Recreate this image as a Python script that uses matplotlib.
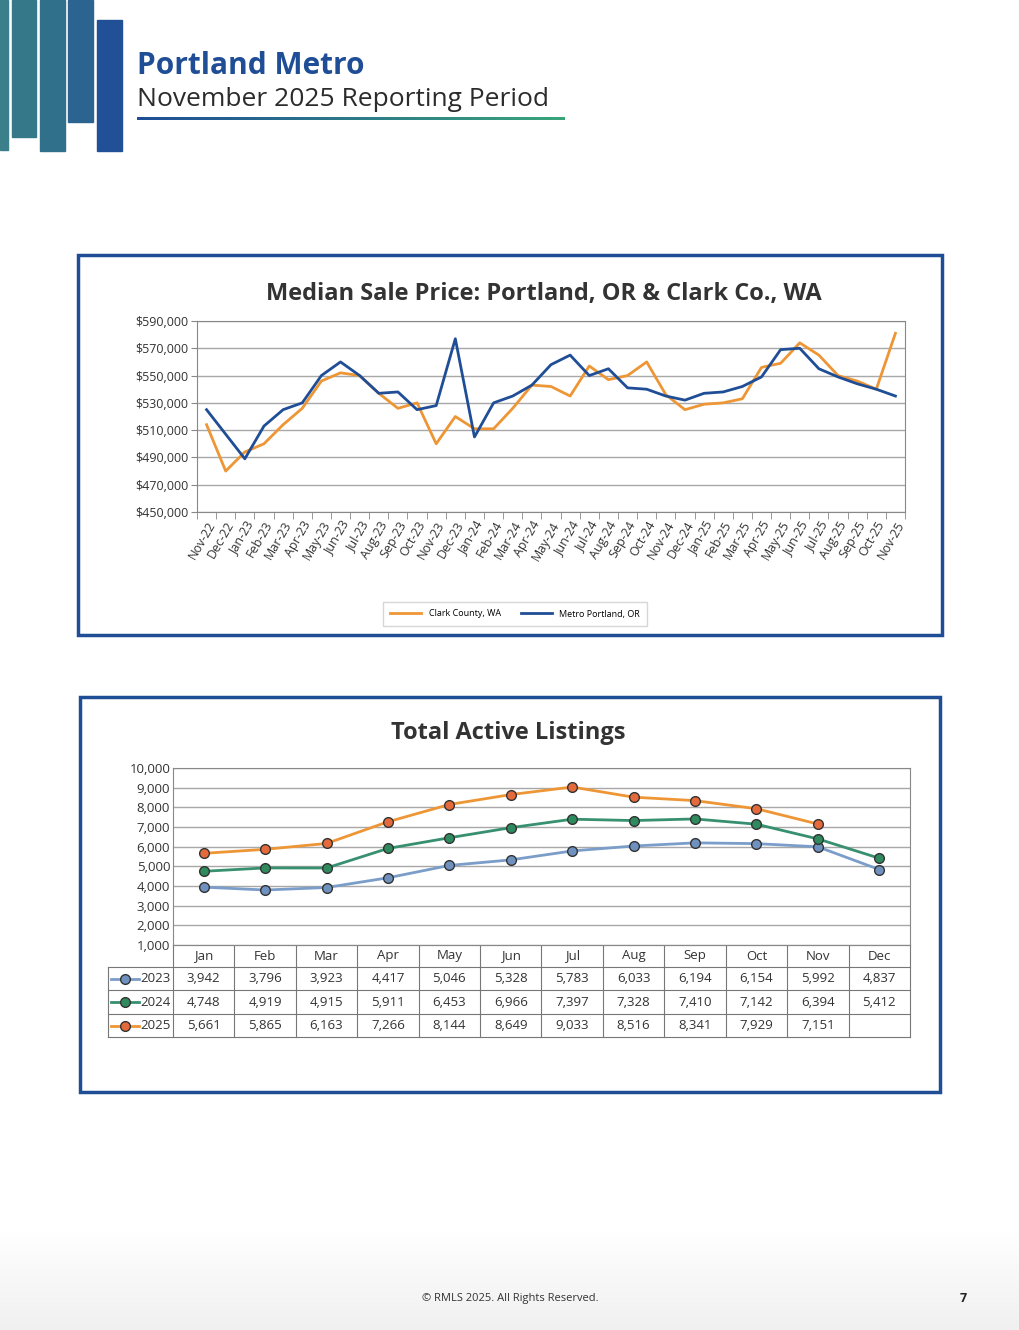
import numpy as np
import matplotlib.pyplot as plt
from matplotlib.patches import Rectangle
from matplotlib.colors import LinearSegmentedColormap

plt.rcParams['font.family'] = ['Open Sans', 'DejaVu Sans']

# top chart data ($000)
months = ['Nov-22', 'Dec-22', 'Jan-23', 'Feb-23', 'Mar-23', 'Apr-23', 'May-23', 'Jun-23', 'Jul-23',
          'Aug-23', 'Sep-23', 'Oct-23', 'Nov-23', 'Dec-23', 'Jan-24', 'Feb-24', 'Mar-24', 'Apr-24',
          'May-24', 'Jun-24', 'Jul-24', 'Aug-24', 'Sep-24', 'Oct-24', 'Nov-24', 'Dec-24', 'Jan-25',
          'Feb-25', 'Mar-25', 'Apr-25', 'May-25', 'Jun-25', 'Jul-25', 'Aug-25', 'Sep-25', 'Oct-25', 'Nov-25']
clark = [514, 480, 494, 500, 514, 526, 546, 552, 550, 537, 526, 530, 500, 520, 511, 511, 526, 543,
         542, 535, 557, 547, 550, 560, 536, 525, 529, 530, 533, 556, 559, 574, 565, 550, 546, 540, 581]
metro = [525, 507, 489, 513, 525, 530, 550, 560, 550, 537, 538, 525, 528, 577, 505, 530, 535, 543,
         558, 565, 550, 555, 541, 540, 535, 532, 537, 538, 542, 549, 569, 570, 555, 549, 544, 540, 535]

# bottom chart data
cal = ['Jan', 'Feb', 'Mar', 'Apr', 'May', 'Jun', 'Jul', 'Aug', 'Sep', 'Oct', 'Nov', 'Dec']
y2023 = [3942, 3796, 3923, 4417, 5046, 5328, 5783, 6033, 6194, 6154, 5992, 4837]
y2024 = [4748, 4919, 4915, 5911, 6453, 6966, 7397, 7328, 7410, 7142, 6394, 5412]
y2025 = [5661, 5865, 6163, 7266, 8144, 8649, 9033, 8516, 8341, 7929, 7151]

W, H = 1020, 1330
fig = plt.figure(figsize=(W / 100, H / 100), dpi=100)


def px(x0, y0, x1, y1):
    return [x0 / W, 1 - y1 / H, (x1 - x0) / W, (y1 - y0) / H]


bg = fig.add_axes([0, 0, 1, 1])
bg.axis('off')

# footer band (light grey fade)
fade = np.linspace(0, 1, 100)[:, None]
bg.imshow(fade, cmap=LinearSegmentedColormap.from_list('f', ['#ffffff', '#f0f0f0']),
          extent=(0, W, 1330, 1230), aspect='auto', zorder=0)

# header bars
for (x0, x1, y0, y1, c) in [(0, 8, 0, 150, '#3a7f8a'), (12, 36, 0, 137, '#357889'),
                            (40, 65, 0, 151, '#30708a'), (68, 93, 0, 122, '#2b6391'),
                            (97, 122, 20, 151, '#215096')]:
    bg.add_patch(Rectangle((x0, y0), x1 - x0, y1 - y0, color=c))
bg.text(137, 66, 'Portland Metro', fontsize=21.5, fontweight='bold', color='#1f4e96', va='center')
bg.text(137, 100, 'November 2025 Reporting Period', fontsize=19, color='#2b2b2b', va='center')
grad = np.linspace(0, 1, 200)[None, :]
bg.imshow(grad, cmap=LinearSegmentedColormap.from_list('g', ['#1f4e96', '#3aa57a']),
          extent=(137, 565, 120.5, 118), aspect='auto')
bg.set_xlim(0, W)
bg.set_ylim(H, 0)

bg.text(510, 1299, '© RMLS 2025. All Rights Reserved.', fontsize=8, color='#333333', ha='center', va='center')
bg.text(963, 1298, '7', fontsize=9, fontweight='bold', color='#222222', ha='center', va='center')

# frames
for (x0, y0, x1, y1) in [(78, 255, 942, 635), (80, 697, 940, 1092)]:
    bg.add_patch(Rectangle((x0, y0), x1 - x0, y1 - y0, fill=False, ec='#1f4e96', lw=2.5))

# ---- top chart ----
bg.text(544, 294, 'Median Sale Price: Portland, OR & Clark Co., WA', fontsize=17, fontweight='bold',
        color='#333333', ha='center', va='center')
ax = fig.add_axes(px(197, 321, 905, 512))
x = np.arange(len(months))
ax.plot(x, clark, color='#ee9635', lw=2, label='Clark County, WA')
ax.plot(x, metro, color='#1f4e96', lw=2, label='Metro Portland, OR')
ax.set_xlim(-0.5, len(months) - 0.5)
ax.set_ylim(450, 590)
ax.set_yticks(np.arange(450, 591, 20))
ax.set_yticklabels([f'${v},000' for v in range(450, 591, 20)], fontsize=9, color='#333333')
ax.set_xticks(x)
ax.set_xticklabels(months, rotation=60, ha='right', rotation_mode='anchor', fontsize=9, color='#333333')
ax.set_xticks(np.arange(-0.5, len(months)), minor=True)
ax.tick_params(axis='x', which='major', length=0, pad=5)
ax.tick_params(axis='x', which='minor', length=5, color='#888888')
ax.tick_params(axis='y', length=4, color='#888888', pad=2)
ax.grid(axis='y', color='#a8a8a8', lw=1)
ax.set_axisbelow(True)
for s in ax.spines.values():
    s.set_color('#888888')
fig.legend(loc='center', bbox_to_anchor=(515 / W, 1 - 614 / H), ncol=2, fontsize=6.5,
           frameon=True, fancybox=False, edgecolor='#cccccc', handlelength=3.5, borderpad=0.8,
           columnspacing=2.2)

# ---- bottom chart ----
bg.text(508, 733, 'Total Active Listings', fontsize=17, fontweight='bold', color='#333333',
        ha='center', va='center')
ax2 = fig.add_axes(px(173, 768, 910, 945))
xs = np.arange(12)
styles = [('2023', y2023, '#7b9dc9', '#6e91c0'), ('2024', y2024, '#379070', '#2f8a5d'),
          ('2025', y2025, '#ee9635', '#e46a3c')]
for name, vals, lc, mc in styles:
    ax2.plot(xs[:len(vals)], vals, color=lc, lw=2, marker='o', ms=7, mfc=mc, mec='#333333', mew=1)
ax2.set_xlim(-0.5, 11.5)
ax2.set_ylim(1000, 10000)
ax2.set_yticks(np.arange(1000, 10001, 1000))
ax2.set_yticklabels([f'{v:,}' for v in range(1000, 10001, 1000)], fontsize=9.5, color='#333333')
ax2.set_xticks([])
ax2.tick_params(axis='y', length=0, pad=2)
ax2.grid(axis='y', color='#a8a8a8', lw=1)
ax2.set_axisbelow(True)
for s in ax2.spines.values():
    s.set_color('#888888')

# data table under the plot
col_w = (910 - 173) / 12
row_y = [945, 967, 990, 1014, 1037]
lc = '#777777'
for i in range(13):
    xx = 173 + i * col_w
    bg.plot([xx, xx], [945, 1037], color=lc, lw=0.8)
bg.plot([108, 108], [967, 1037], color=lc, lw=0.8)
bg.plot([173, 910], [945, 945], color=lc, lw=0.8)
for yy in row_y[1:]:
    bg.plot([108, 910], [yy, yy], color=lc, lw=0.8)
for i, m in enumerate(cal):
    bg.text(173 + (i + 0.5) * col_w, 956, m, fontsize=9.5, color='#333333', ha='center', va='center')
for r, (name, vals, lcol, mc) in enumerate(styles):
    yc = (row_y[r + 1] + row_y[r + 2]) / 2
    bg.plot([111, 139], [yc, yc], color=lcol, lw=2)
    bg.plot([125], [yc], marker='o', ms=7, mfc=mc, mec='#333333', mew=1, color=lcol)
    bg.text(140, yc, name, fontsize=9.5, color='#333333', va='center')
    for i, v in enumerate(vals):
        bg.text(173 + (i + 0.5) * col_w, yc, f'{v:,}', fontsize=9.5, color='#333333',
                ha='center', va='center')

fig.savefig('out.png', dpi=100)
